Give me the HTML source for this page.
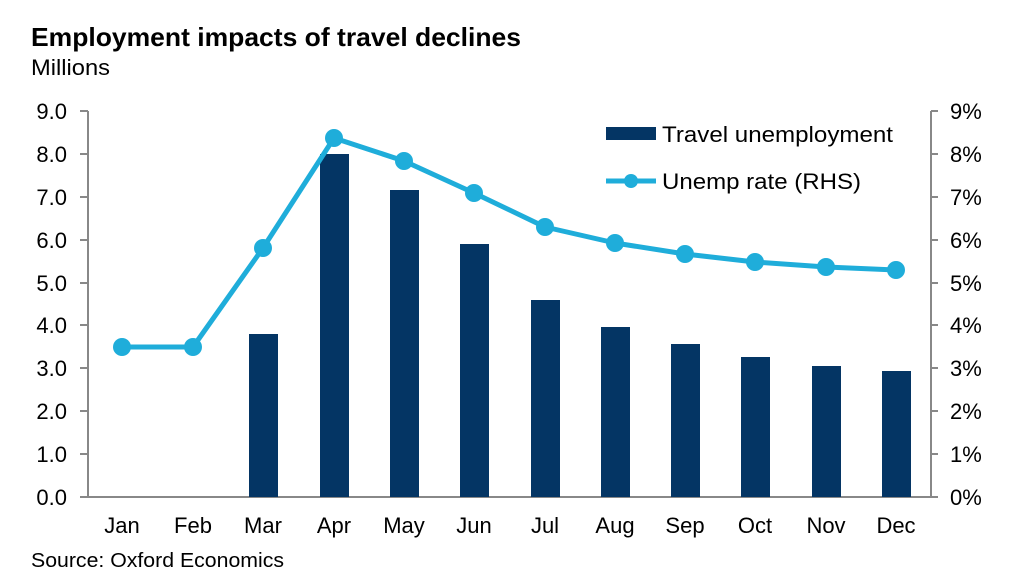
<!DOCTYPE html>
<html><head><meta charset="utf-8"><style>
body{margin:0;background:#fff;font-family:"Liberation Sans",Arial,sans-serif;}
</style></head><body>
<svg width="1030" height="580" xmlns="http://www.w3.org/2000/svg" font-family="Liberation Sans, Arial, sans-serif">
<rect width="1030" height="580" fill="#fff"/>
<text x="31" y="46" font-size="26" font-weight="bold" fill="#000" textLength="490" lengthAdjust="spacingAndGlyphs">Employment impacts of travel declines</text>
<text x="31" y="75" font-size="22" fill="#000" textLength="79" lengthAdjust="spacingAndGlyphs">Millions</text>
<text x="31" y="567" font-size="20" fill="#000" textLength="253" lengthAdjust="spacingAndGlyphs">Source: Oxford Economics</text>
<g stroke="#888" stroke-width="2">
<line x1="88" y1="111" x2="88" y2="497"/>
<line x1="931" y1="111" x2="931" y2="497"/>
<line x1="80" y1="497" x2="938" y2="497"/>
<line x1="80" y1="111" x2="88" y2="111"/><line x1="80" y1="154" x2="88" y2="154"/><line x1="80" y1="197" x2="88" y2="197"/><line x1="80" y1="240" x2="88" y2="240"/><line x1="80" y1="283" x2="88" y2="283"/><line x1="80" y1="325" x2="88" y2="325"/><line x1="80" y1="368" x2="88" y2="368"/><line x1="80" y1="411" x2="88" y2="411"/><line x1="80" y1="454" x2="88" y2="454"/>
<line x1="931" y1="111" x2="938" y2="111"/><line x1="931" y1="154" x2="938" y2="154"/><line x1="931" y1="197" x2="938" y2="197"/><line x1="931" y1="240" x2="938" y2="240"/><line x1="931" y1="283" x2="938" y2="283"/><line x1="931" y1="325" x2="938" y2="325"/><line x1="931" y1="368" x2="938" y2="368"/><line x1="931" y1="411" x2="938" y2="411"/><line x1="931" y1="454" x2="938" y2="454"/>
</g>
<g font-size="22" fill="#000" text-anchor="end">
<text x="67" y="119">9.0</text><text x="67" y="162">8.0</text><text x="67" y="205">7.0</text><text x="67" y="248">6.0</text><text x="67" y="291">5.0</text><text x="67" y="333">4.0</text><text x="67" y="376">3.0</text><text x="67" y="419">2.0</text><text x="67" y="462">1.0</text><text x="67" y="505">0.0</text>
</g>
<g font-size="22" fill="#000">
<text x="950" y="119">9%</text><text x="950" y="162">8%</text><text x="950" y="205">7%</text><text x="950" y="248">6%</text><text x="950" y="291">5%</text><text x="950" y="333">4%</text><text x="950" y="376">3%</text><text x="950" y="419">2%</text><text x="950" y="462">1%</text><text x="950" y="505">0%</text>
</g>
<g font-size="22" fill="#000" text-anchor="middle">
<text x="122" y="533">Jan</text><text x="193" y="533">Feb</text><text x="263" y="533">Mar</text><text x="334" y="533">Apr</text><text x="404" y="533">May</text><text x="474" y="533">Jun</text><text x="545" y="533">Jul</text><text x="615" y="533">Aug</text><text x="685" y="533">Sep</text><text x="755" y="533">Oct</text><text x="826" y="533">Nov</text><text x="896" y="533">Dec</text>
</g>
<g fill="#043564">
<rect x="249" y="334" width="29" height="163"/>
<rect x="320" y="154" width="29" height="343"/>
<rect x="390" y="190" width="29" height="307"/>
<rect x="460" y="244" width="29" height="253"/>
<rect x="531" y="300" width="29" height="197"/>
<rect x="601" y="327" width="29" height="170"/>
<rect x="671" y="344" width="29" height="153"/>
<rect x="741" y="357" width="29" height="140"/>
<rect x="812" y="366" width="29" height="131"/>
<rect x="882" y="371" width="29" height="126"/>
</g>
<polyline fill="none" stroke="#1fadda" stroke-width="5" stroke-linejoin="round" points="122,347 193,347 263,248 334,138 404,161 474,193 545,227 615,243 685,254 755,262 826,267 896,270"/>
<g fill="#1fadda">
<circle cx="122" cy="347" r="9"/><circle cx="193" cy="347" r="9"/><circle cx="263" cy="248" r="9"/><circle cx="334" cy="138" r="9"/><circle cx="404" cy="161" r="9"/><circle cx="474" cy="193" r="9"/><circle cx="545" cy="227" r="9"/><circle cx="615" cy="243" r="9"/><circle cx="685" cy="254" r="9"/><circle cx="755" cy="262" r="9"/><circle cx="826" cy="267" r="9"/><circle cx="896" cy="270" r="9"/>
</g>
<rect x="606" y="127" width="50" height="13" fill="#043564"/>
<text x="662" y="142" font-size="22" fill="#000" textLength="231" lengthAdjust="spacingAndGlyphs">Travel unemployment</text>
<line x1="606" y1="181" x2="656" y2="181" stroke="#1fadda" stroke-width="5"/>
<circle cx="631" cy="181" r="7" fill="#1fadda"/>
<text x="662" y="189" font-size="22" fill="#000" textLength="199" lengthAdjust="spacingAndGlyphs">Unemp rate (RHS)</text>
</svg>
</body></html>
